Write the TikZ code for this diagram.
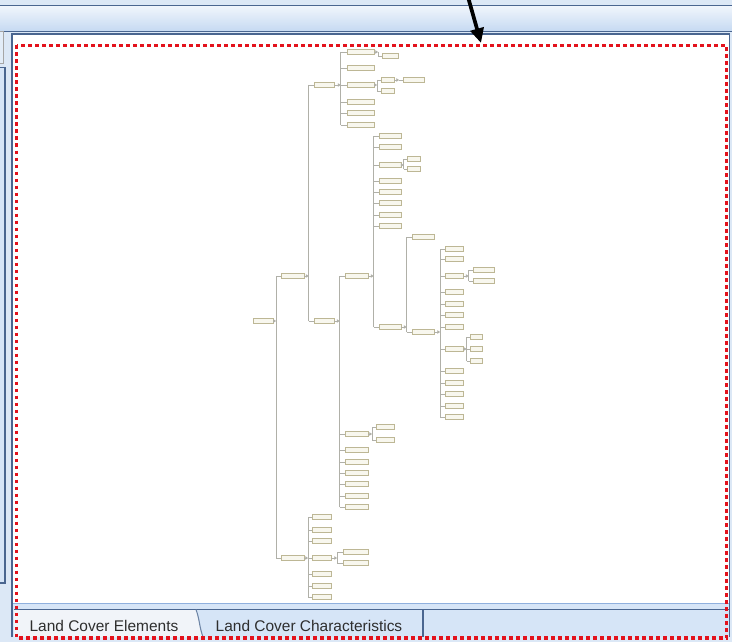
\documentclass[tikz,border=0pt]{standalone}
\usepackage{fontspec}
\setmainfont{Liberation Sans}
\usetikzlibrary{arrows.meta}
\definecolor{boxc}{HTML}{BDB795}
\definecolor{boxf}{HTML}{F8F7EE}
\definecolor{lnc}{HTML}{B0B0A8}
\definecolor{uibg}{HTML}{DCE8F6}
\definecolor{uidark}{HTML}{4A6690}
\definecolor{uimid}{HTML}{8FB0DE}
\definecolor{tabbg}{HTML}{D6E5F7}
\definecolor{tabact}{HTML}{F1F4F9}
\definecolor{gradtop}{HTML}{F0F5FC}
\definecolor{gradbot}{HTML}{C6DAF2}
\definecolor{redd}{HTML}{E3121C}
\newcommand\bx[4]{\node[bx,minimum width={(#3-#2)*0.75pt}] (#1) at (#2,#4) {};}
\newcommand\conn[5]{%
  \coordinate (bus#1) at (#2,0);
  \draw[cn,-{Triangle[length=2pt,width=2.6pt]}] (#1.east) -- (bus#1 |- #1.east);
  \draw[cn] (bus#1 |- #3.west) -- (bus#1 |- #4.west);
  \foreach \c in {#5} {\draw[cn] (bus#1 |- \c.west) -- (\c.west);}
}
\begin{document}
\begin{tikzpicture}[x=0.75pt,y=-0.75pt,
  bx/.style={draw=boxc,fill=boxf,line width=0.6pt,minimum height=3.2pt,inner sep=0pt,outer sep=0pt,anchor=west},
  cn/.style={draw=lnc,line width=0.6pt},
  uiline/.style={draw=uidark,line width=1.1pt},
  tabtxt/.style={text=black!82,font=\fontsize{11.6pt}{13pt}\selectfont,inner sep=0pt},
  reddots/.style={draw=redd,line width=2.9pt,dash pattern=on 2.9pt off 2.35pt}]
\useasboundingbox (0,0) rectangle (732,642);
% ---------- window chrome ----------
\fill[uibg] (0,0) rectangle (732,642);
\shade[top color=gradtop,bottom color=gradbot] (0,6) rectangle (732,31);
\draw[uiline] (0,5.5) -- (732,5.5);
\draw[uiline] (0,31.5) -- (732,31.5);
% left side panels
\draw[draw=black!35,fill=uibg!80!white,line width=0.6pt] (-2,31) rectangle (3,63);
\draw[uidark,fill=tabbg,line width=1pt] (-2,67.5) rectangle (5,583);
% main panel
\fill[white] (13,34) rectangle (729,603);
\draw[uidark,line width=1.2pt] (12,637) -- (12,34) -- (729.5,34) -- (729.5,637);
% tab strip
\fill[tabbg] (13,604) rectangle (729,637);
\draw[uimid,line width=1pt] (13,603.5) -- (729,603.5);
\fill[tabact] (14,609.5) -- (196,609.5) to[out=-70,in=110] (203,637) -- (14,637) -- cycle;
\draw[uidark,line width=1pt] (14,609.5) -- (729,609.5);
\draw[uidark!80,line width=0.8pt] (196,609.5) to[out=-70,in=110] (203,637);
\draw[uidark,line width=1pt] (423,609.5) -- (423,637);
\node[tabtxt] (tab1) at (104,626) {Land Cover Elements};
\node[tabtxt] (tab2) at (309,626) {Land Cover Characteristics};
% red dotted frame
\draw[reddots] (16.5,45.5) rectangle (726.5,638);
% black arrow
\coordinate (arrS) at (468,-3);
\coordinate (arrE) at (481,43);
\draw[black,line width=2.8pt,-{Triangle[length=11pt,width=10pt]}] (arrS) -- (arrE);
% ---------- tree ----------
\bx{r}{253}{273}{321}
\bx{a}{281}{304}{276}
\bx{b}{281}{304}{558}
\bx{aa}{314}{334}{85}
\bx{ab}{314}{334}{321}
% A1 children
\bx{aa1}{347}{374}{52}
\bx{aa2}{347}{374}{68}
\bx{aa3}{347}{374}{85}
\bx{aa4}{347}{374}{102}
\bx{aa5}{347}{374}{113}
\bx{aa6}{347}{374}{125}
\bx{aa1a}{382}{398}{56}
\bx{aa3a}{381}{394}{80}
\bx{aa3b}{381}{394}{91}
\bx{aa3aa}{403}{424}{80}
% A2 children
\bx{aba}{345}{368}{276}
\bx{ab2}{345}{368}{434}
\bx{ab3}{345}{368}{450}
\bx{ab4}{345}{368}{462}
\bx{ab5}{345}{368}{473}
\bx{ab6}{345}{368}{484}
\bx{ab7}{345}{368}{496}
\bx{ab8}{345}{368}{507}
\bx{ab2a}{376}{394}{427}
\bx{ab2b}{376}{394}{440}
% A2a children
\bx{aba1}{379}{401}{136}
\bx{aba2}{379}{401}{147}
\bx{aba3}{379}{401}{165}
\bx{aba4}{379}{401}{181}
\bx{aba5}{379}{401}{192}
\bx{aba6}{379}{401}{203}
\bx{aba7}{379}{401}{215}
\bx{aba8}{379}{401}{226}
\bx{aba9}{379}{401}{327}
\bx{aba3a}{407}{420}{159}
\bx{aba3b}{407}{420}{169}
\bx{aba9a}{412}{434}{237}
\bx{aba9b}{412}{434}{332}
% deepest level
\bx{q1}{445}{463}{249}
\bx{q2}{445}{463}{259}
\bx{q3}{445}{463}{276}
\bx{q4}{445}{463}{292}
\bx{q5}{445}{463}{304}
\bx{q6}{445}{463}{315}
\bx{q7}{445}{463}{327}
\bx{q8}{445}{463}{349}
\bx{q9}{445}{463}{371}
\bx{q10}{445}{463}{383}
\bx{q11}{445}{463}{394}
\bx{q12}{445}{463}{406}
\bx{q13}{445}{463}{417}
\bx{q3a}{473}{494}{270}
\bx{q3b}{473}{494}{281}
\bx{q8a}{470}{482}{337}
\bx{q8b}{470}{482}{349}
\bx{q8c}{470}{482}{361}
% B children
\bx{b1}{312}{331}{517}
\bx{b2}{312}{331}{530}
\bx{b3}{312}{331}{541}
\bx{b4}{312}{331}{558}
\bx{b5}{312}{331}{574}
\bx{b6}{312}{331}{586}
\bx{b7}{312}{331}{597}
\bx{b4a}{343}{368}{552}
\bx{b4b}{343}{368}{563}
% ---------- connectors ----------
\conn{r}{276}{a}{b}{a,b}
\conn{a}{308.5}{aa}{ab}{aa,ab}
\conn{b}{308}{b1}{b7}{b1,b2,b3,b4,b5,b6,b7}
\conn{aa}{340.5}{aa1}{aa6}{aa1,aa2,aa3,aa4,aa5,aa6}
\conn{aa1}{378}{aa1}{aa1a}{aa1a}
\conn{aa3}{377}{aa3a}{aa3b}{aa3a,aa3b}
\conn{aa3a}{399}{aa3aa}{aa3aa}{aa3aa}
\conn{ab}{339.5}{aba}{ab8}{aba,ab2,ab3,ab4,ab5,ab6,ab7,ab8}
\conn{ab2}{372}{ab2a}{ab2b}{ab2a,ab2b}
\conn{aba}{373.5}{aba1}{aba9}{aba1,aba2,aba3,aba4,aba5,aba6,aba7,aba8,aba9}
\conn{aba3}{403.5}{aba3a}{aba3b}{aba3a,aba3b}
\conn{aba9}{406.5}{aba9a}{aba9b}{aba9a,aba9b}
\conn{aba9b}{440}{q1}{q13}{q1,q2,q3,q4,q5,q6,q7,q8,q9,q10,q11,q12,q13}
\conn{q3}{468.5}{q3a}{q3b}{q3a,q3b}
\conn{q8}{466.5}{q8a}{q8c}{q8a,q8b,q8c}
\conn{b4}{337}{b4a}{b4b}{b4a,b4b}
\end{tikzpicture}
\end{document}
